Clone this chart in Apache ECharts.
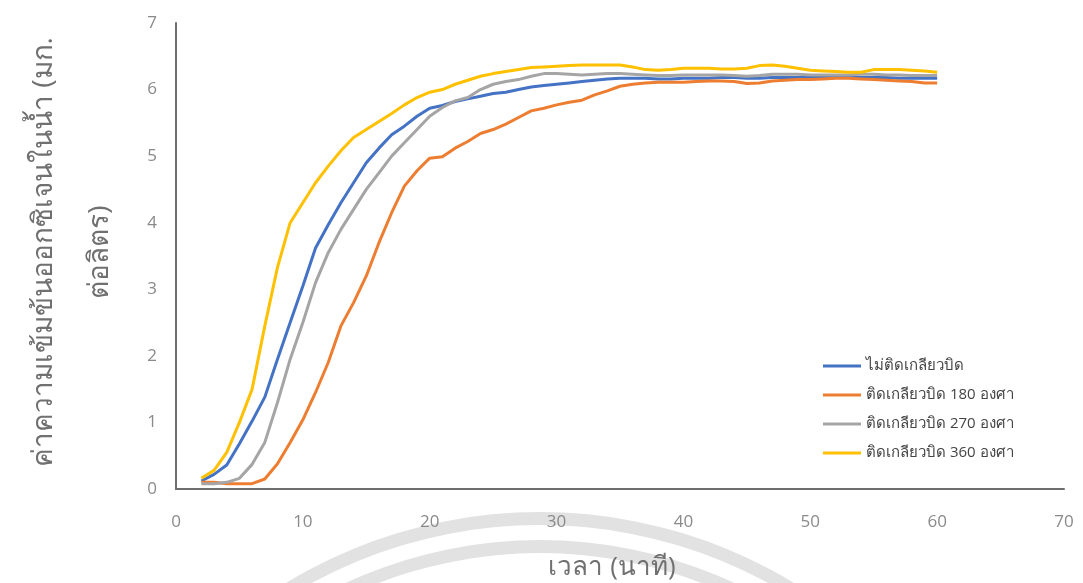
<!DOCTYPE html>
<html>
<head>
<meta charset="utf-8">
<script src="https://cdn.jsdelivr.net/npm/echarts@6/dist/echarts.min.js"></script>
<style>html,body{margin:0;padding:0;background:#fff}#c{width:1083px;height:583px}</style>
</head>
<body>
<div id="c"></div>
<script>
const minutes = [2,3,4,5,6,7,8,9,10,11,12,13,14,15,16,17,18,19,20,21,22,23,24,25,26,27,28,29,30,31,32,33,34,35,36,37,38,39,40,41,42,43,44,45,46,47,48,49,50,51,52,53,54,55,56,57,58,59,60];
const seriesNames = ['ไม่ติดเกลียวบิด','ติดเกลียวบิด 180 องศา','ติดเกลียวบิด 270 องศา','ติดเกลียวบิด 360 องศา'];
const noTwist = [0.12,0.22,0.36,0.68,1.02,1.38,1.95,2.5,3.05,3.62,3.97,4.3,4.6,4.9,5.12,5.32,5.45,5.6,5.72,5.76,5.82,5.86,5.9,5.94,5.96,6.0,6.04,6.06,6.08,6.1,6.12,6.14,6.16,6.17,6.17,6.17,6.16,6.16,6.17,6.17,6.17,6.18,6.18,6.17,6.17,6.18,6.18,6.18,6.18,6.18,6.18,6.18,6.18,6.18,6.18,6.17,6.17,6.17,6.17];
const twist180 = [0.1,0.1,0.08,0.08,0.08,0.15,0.38,0.7,1.04,1.45,1.9,2.45,2.8,3.2,3.7,4.15,4.55,4.78,4.97,4.99,5.12,5.22,5.34,5.4,5.48,5.58,5.68,5.72,5.77,5.81,5.84,5.92,5.98,6.05,6.08,6.1,6.11,6.11,6.11,6.12,6.13,6.13,6.12,6.09,6.1,6.13,6.14,6.15,6.15,6.16,6.17,6.17,6.16,6.15,6.14,6.13,6.12,6.1,6.1];
const twist270 = [0.08,0.08,0.1,0.16,0.37,0.7,1.3,1.95,2.5,3.1,3.55,3.9,4.2,4.5,4.75,5.0,5.2,5.4,5.6,5.73,5.83,5.88,6.0,6.08,6.12,6.15,6.2,6.24,6.24,6.23,6.22,6.23,6.24,6.24,6.23,6.22,6.21,6.21,6.22,6.22,6.22,6.22,6.21,6.2,6.21,6.23,6.23,6.23,6.22,6.22,6.22,6.22,6.23,6.23,6.22,6.22,6.21,6.21,6.21];
const twist360 = [0.16,0.28,0.55,1.0,1.5,2.45,3.33,4.0,4.3,4.6,4.85,5.08,5.28,5.4,5.52,5.64,5.77,5.88,5.96,6.0,6.08,6.14,6.2,6.24,6.27,6.3,6.33,6.34,6.35,6.36,6.37,6.37,6.37,6.37,6.34,6.3,6.29,6.3,6.32,6.32,6.32,6.31,6.31,6.32,6.36,6.37,6.35,6.32,6.29,6.28,6.27,6.26,6.26,6.3,6.3,6.3,6.29,6.28,6.26];
const colors = ['#4472C4','#ED7D31','#A5A5A5','#FFC000'];
const yTitleLines = ['ค่าความเข้มข้นออกซิเจนในน้ำ (มก.', 'ต่อลิตร)'];
const xTitle = 'เวลา (นาที)';

const pair = arr => minutes.map((m,i)=>[m, arr[i]]);
const allData = [noTwist, twist180, twist270, twist360];
const FONT = '"Open Sans", "Noto Sans", "DejaVu Sans", sans-serif';

const chart = echarts.init(document.getElementById('c'));
chart.setOption({
  backgroundColor: '#ffffff',
  animation: false,
  color: colors,
  grid: {left: 176, right: 19, top: 23, bottom: 94},
  xAxis: {
    type: 'value', min: 0, max: 70, interval: 10,
    axisLine: {show: true, lineStyle: {color: '#6e6e6e', width: 2}},
    axisTick: {show: false},
    splitLine: {show: false},
    axisLabel: {color: '#8a8a8a', fontSize: 17, fontFamily: FONT, margin: 25}
  },
  yAxis: {
    type: 'value', min: 0, max: 7, interval: 1,
    axisLine: {show: true, lineStyle: {color: '#6e6e6e', width: 2}},
    axisTick: {show: false},
    splitLine: {show: false},
    axisLabel: {color: '#8a8a8a', fontSize: 17, fontFamily: FONT, margin: 19}
  },
  legend: {
    orient: 'vertical', left: 818, top: 352,
    icon: 'rect', itemWidth: 38, itemHeight: 3, itemGap: 11,
    data: seriesNames,
    textStyle: {color: '#444', fontSize: 15, lineHeight: 18, fontFamily: FONT}
  },
  graphic: [
    {type: 'ring', z: -10, silent: true, shape: {cx: 540, cy: 1002, r: 490, r0: 477}, style: {fill: '#e2e2e2'}},
    {type: 'ring', z: -10, silent: true, shape: {cx: 540, cy: 1002, r: 462, r0: 449}, style: {fill: '#e2e2e2'}},
    {type: 'text', silent: true, x: 44, y: 252, rotation: Math.PI/2,
     style: {text: yTitleLines[0], fill: '#707070', fontSize: 28, fontFamily: FONT, align: 'center', verticalAlign: 'middle'}},
    {type: 'text', silent: true, x: 100, y: 252, rotation: Math.PI/2,
     style: {text: yTitleLines[1], fill: '#707070', fontSize: 28, fontFamily: FONT, align: 'center', verticalAlign: 'middle'}},
    {type: 'text', silent: true, x: 612, y: 568,
     style: {text: xTitle, fill: '#707070', fontSize: 26, fontFamily: FONT, align: 'center', verticalAlign: 'middle'}}
  ],
  series: allData.map((arr, i) => ({
    name: seriesNames[i], type: 'line', data: pair(arr),
    showSymbol: false, symbol: 'none',
    lineStyle: {width: 3, color: colors[i]}
  }))
});
</script>
</body>
</html>
